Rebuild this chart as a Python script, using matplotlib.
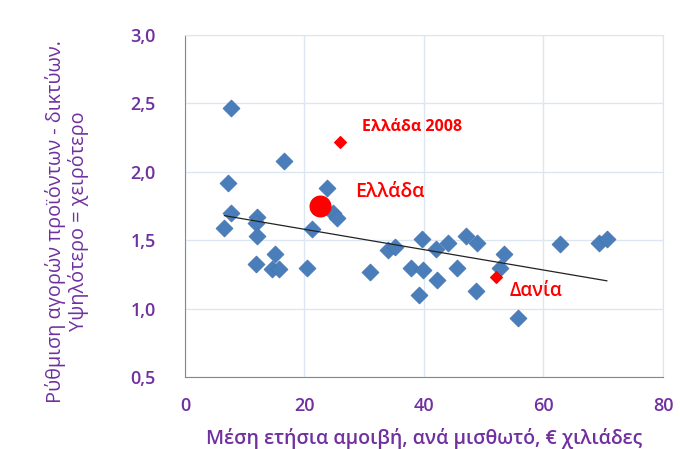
import numpy as np
import matplotlib
matplotlib.use('Agg')
from matplotlib import pyplot as plt

plt.rcParams['font.family'] = ['Open Sans', 'DejaVu Sans']

# OECD countries: mean annual wage (k EUR) vs product market regulation
wage = [7.7, 7.2, 16.6, 23.8, 7.7, 6.6, 12.1, 11.9, 12.1, 11.9, 15.1, 14.6, 15.8,
        20.5, 21.3, 24.8, 25.4, 31.0, 33.9, 35.1, 39.7, 42.0, 44.0, 47.1, 48.9,
        53.4, 52.7, 37.9, 39.8, 45.5, 42.1, 39.1, 48.7, 55.8, 62.8, 69.3, 70.6]
pmr = [2.47, 1.92, 2.08, 1.88, 1.70, 1.59, 1.67, 1.63, 1.53, 1.33, 1.40, 1.29, 1.29,
       1.30, 1.58, 1.70, 1.66, 1.27, 1.43, 1.45, 1.51, 1.44, 1.48, 1.53, 1.48,
       1.40, 1.30, 1.30, 1.28, 1.30, 1.21, 1.10, 1.13, 0.93, 1.47, 1.48, 1.51]

greece = (22.6, 1.75)
greece_2008 = (25.9, 2.22)
denmark = (52.0, 1.23)

purple = '#7030a0'
blue = '#4a7ebb'

fig = plt.figure(figsize=(6.8, 4.49), dpi=100)
ax = fig.add_axes([0.272, 0.160, 0.703, 0.762])

ax.scatter(wage, pmr, marker='D', s=75, color=blue, edgecolors='#4373ae',
           linewidths=0.5, zorder=3)

# linear trend
all_x = np.array(wage + [greece[0], denmark[0]])
all_y = np.array(pmr + [greece[1], denmark[1]])
k, b = np.polyfit(all_x, all_y, 1)
tx = np.array([all_x.min(), all_x.max()])
ax.plot(tx, k * tx + b, color='#222222', lw=0.9, zorder=4)

ax.scatter([greece[0]], [greece[1]], marker='o', s=220, color='red', zorder=5)
ax.scatter([greece_2008[0], denmark[0]], [greece_2008[1], denmark[1]], marker='D',
           s=35, color='red', zorder=5)

ax.text(29.7, 2.33, 'Ελλάδα 2008', color='red', fontsize=11.5, fontweight='bold',
        va='center', ha='left')
ax.text(28.4, 1.85, 'Ελλάδα', color='red', fontsize=14, fontweight='semibold',
        va='center', ha='left')
ax.text(54.4, 1.13, 'Δανία', color='red', fontsize=13.5, fontweight='semibold',
        va='center', ha='left')

ax.set_xlim(0, 80)
ax.set_ylim(0.5, 3.0)
ax.set_xticks([0, 20, 40, 60, 80])
ax.set_yticks([0.5, 1.0, 1.5, 2.0, 2.5, 3.0])
ax.set_yticklabels(['0,5', '1,0', '1,5', '2,0', '2,5', '3,0'])
ax.grid(True, color='#dce6f2', lw=1)
ax.set_axisbelow(True)
ax.tick_params(length=0, labelsize=13, labelcolor=purple)
for lab in ax.get_xticklabels() + ax.get_yticklabels():
    lab.set_fontweight('semibold')
ax.tick_params(axis='x', pad=14)
ax.tick_params(axis='y', pad=21)

for side in ['top', 'right']:
    ax.spines[side].set_color('#dce6f2')
ax.spines['left'].set_color('#888888')
ax.spines['bottom'].set_color('#888888')

ax.set_xlabel('Μέση ετήσια αμοιβή, ανά μισθωτό, € χιλιάδες', color=purple,
              fontsize=14, fontweight='semibold', labelpad=10)
ax.set_ylabel('Ρύθμιση αγορών προϊόντων - δικτύων.\nΥψηλότερο = χειρότερο',
              color=purple, fontsize=14.3, fontweight='normal',
              linespacing=1.15)
ax.yaxis.set_label_coords(-0.2, 0.455)

fig.savefig('out.png', dpi=100)
